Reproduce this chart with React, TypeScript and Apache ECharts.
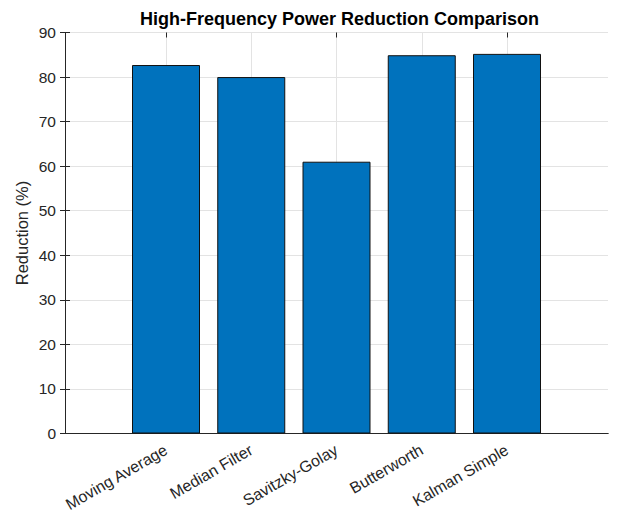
import React, { useEffect, useRef } from "react";
import * as echarts from "echarts";

const categories = ["Moving Average", "Median Filter", "Savitzky-Golay", "Butterworth", "Kalman Simple"];
const reductionValues = [82.7, 80.0, 61.0, 84.9, 85.2];
const yTicks = { min: 0, max: 90, interval: 10 };
const titleText = "High-Frequency Power Reduction Comparison";
const yLabel = "Reduction (%)";

const FONT = "'Liberation Sans', Arial, Helvetica, sans-serif";
const TXT = "#262626";
const GRIDC = "#e3e3e3";

export default function App() {
  const ref = useRef<HTMLDivElement>(null);
  useEffect(() => {
    if (!ref.current) return;
    const chart = echarts.init(ref.current, undefined, { renderer: "svg" });
    const plotLeft = 65, plotRight = 608, plotTop = 32.5, plotBottom = 433.5;
    const c1 = 166, c5 = 507;
    const H = 519, W = 621;
    const axisLineStyle = { color: TXT, width: 1 };
    chart.setOption({
      animation: false,
      backgroundColor: "#ffffff",
      title: {
        text: titleText,
        left: (plotLeft + plotRight) / 2 - 2,
        top: 5,
        textAlign: "center",
        textStyle: { fontFamily: FONT, fontSize: 18, fontWeight: "bold", color: "#000" },
      },
      grid: [
        { left: plotLeft, right: W - plotRight, top: plotTop, bottom: H - plotBottom, show: false },
        { left: c1, right: W - c5, top: plotTop, bottom: H - plotBottom, show: false },
      ],
      xAxis: [
        {
          gridIndex: 0, type: "value", min: 0, max: 1, position: "bottom",
          axisLine: { show: true, lineStyle: axisLineStyle }, axisTick: { show: false },
          axisLabel: { show: false }, splitLine: { show: false },
        },
        {
          gridIndex: 0, type: "value", min: 0, max: 1, position: "top",
          axisLine: { show: true, lineStyle: axisLineStyle }, axisTick: { show: false },
          axisLabel: { show: false }, splitLine: { show: false },
        },
        {
          gridIndex: 1, type: "category", data: categories, boundaryGap: false, position: "bottom",
          axisLine: { show: false },
          axisTick: { show: true, inside: true, length: 5, lineStyle: { color: TXT } },
          splitLine: { show: true, lineStyle: { color: GRIDC, width: 1 } },
          axisLabel: {
            show: true, rotate: 30, margin: 15, interval: 0,
            fontFamily: FONT, fontSize: 16, color: TXT,
          },
        },
        {
          gridIndex: 1, type: "category", data: categories, boundaryGap: false, position: "top",
          axisLine: { show: false },
          axisTick: { show: true, inside: true, length: 5, lineStyle: { color: TXT } },
          splitLine: { show: false }, axisLabel: { show: false },
        },
      ],
      yAxis: [
        {
          gridIndex: 0, type: "value", min: yTicks.min, max: yTicks.max, interval: yTicks.interval,
          position: "left",
          name: yLabel, nameLocation: "middle", nameGap: 35, nameRotate: 90,
          nameMoveOverlap: false,
          nameTextStyle: { fontFamily: FONT, fontSize: 16.5, color: TXT },
          axisLine: { show: true, lineStyle: axisLineStyle },
          axisTick: { show: true, inside: true, length: 5, lineStyle: { color: TXT } },
          axisLabel: { show: true, margin: 9, fontFamily: FONT, fontSize: 15.5, color: TXT },
          splitLine: { show: true, lineStyle: { color: GRIDC, width: 1 } },
        },
        {
          gridIndex: 0, type: "value", min: yTicks.min, max: yTicks.max, interval: yTicks.interval,
          position: "right",
          axisLine: { show: true, lineStyle: axisLineStyle },
          axisTick: { show: true, inside: true, length: 5, lineStyle: { color: TXT } },
          axisLabel: { show: false }, splitLine: { show: false },
        },
        {
          gridIndex: 1, type: "value", min: yTicks.min, max: yTicks.max, interval: yTicks.interval,
          show: false,
        },
      ],
      series: [
        {
          type: "bar",
          xAxisIndex: 2,
          yAxisIndex: 2,
          data: reductionValues,
          barWidth: 68,
          clip: false,
          z: 3,
          itemStyle: { color: "#0072BD", borderColor: "#111111", borderWidth: 1 },
        },
      ],
    });
    return () => chart.dispose();
  }, []);
  return (
    <div
      ref={ref}
      style={{ position: "fixed", left: 0, top: 0, width: 621, height: 519, background: "#fff" }}
    />
  );
}
